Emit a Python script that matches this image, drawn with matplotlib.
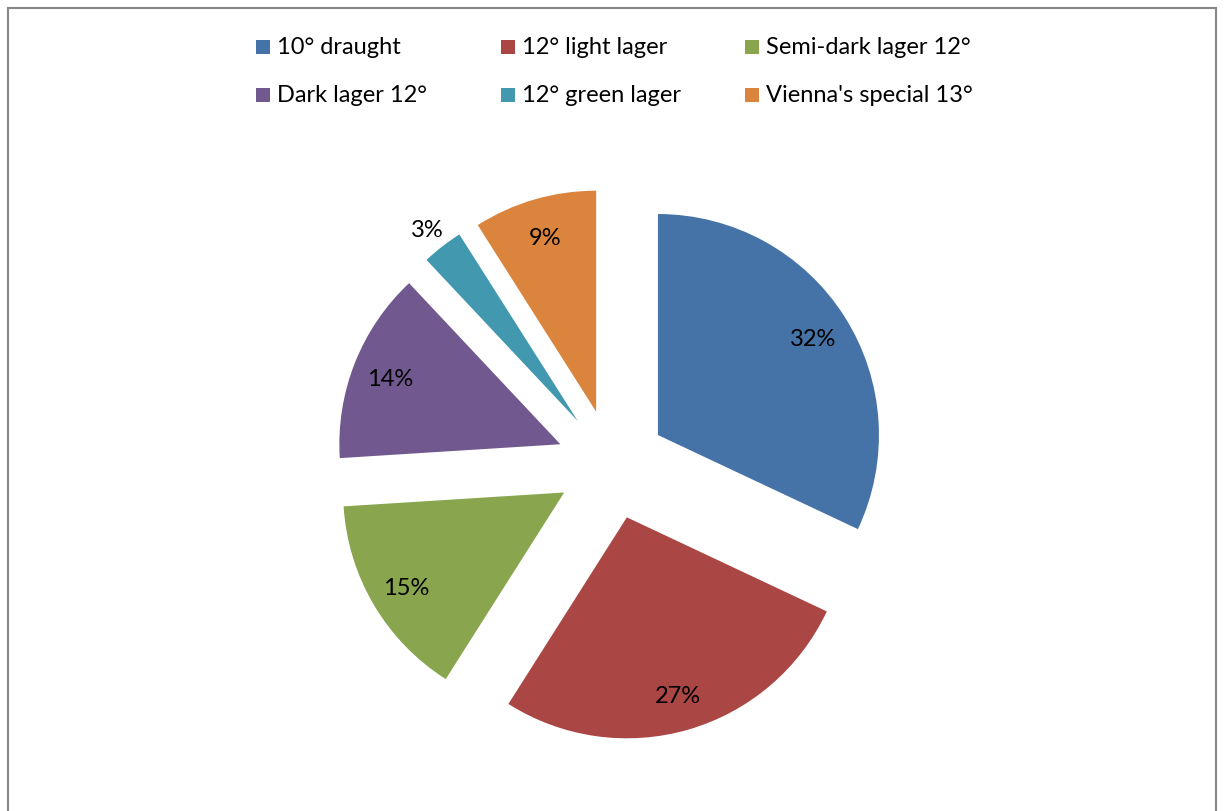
import matplotlib
matplotlib.use("Agg")
import matplotlib.pyplot as plt
from matplotlib.patches import Rectangle
import numpy as np

labels = ["10° draught", "12° light lager", "Semi-dark lager 12°",
          "Dark lager 12°", "12° green lager", "Vienna's special 13°"]
shares = [32, 27, 15, 14, 3, 9]
colors = ["#4572A7", "#AA4643", "#89A54E", "#71588F", "#4198AF", "#DB843D"]

W, H = 1224, 811
FS = 17
plt.rcParams["font.family"] = ["Lato", "DejaVu Sans"]

fig = plt.figure(figsize=(W / 100, H / 100), dpi=100)
ax = fig.add_axes([0, 0, 1, 1])

# pie laid out in pixel units, every slice pulled out by the same amount
r = 221
cx, cy = 611.5, H - 464.5
wedges, _, pcts = ax.pie(shares, colors=colors, radius=r, center=(cx, cy),
                         startangle=90, counterclock=False,
                         explode=[55] * len(shares),
                         autopct=lambda p: f"{p:.0f}%", pctdistance=0.83,
                         textprops=dict(fontsize=FS, color="black"),
                         wedgeprops=dict(linewidth=0))
for t in pcts:
    x, y = t.get_position()
    t.set_position((x, y - 3))

# the thin slice gets its label just outside the wedge
w = wedges[4]
tm = np.deg2rad((w.theta1 + w.theta2) / 2)
pcts[4].set_position((w.center[0] + 1.11 * r * np.cos(tm),
                      w.center[1] + 1.11 * r * np.sin(tm) - 3))

ax.set_xlim(0, W)
ax.set_ylim(0, H)
ax.axis("off")

# legend: two rows of three, evenly spaced
for i, (lab, col) in enumerate(zip(labels, colors)):
    row, c = divmod(i, 3)
    x0 = 256 + c * 244.5
    y = H - (47 + row * 48)
    ax.add_patch(Rectangle((x0, y - 7), 14, 14, color=col, lw=0))
    ax.text(x0 + 21, y - 1, lab, ha="left", va="center", fontsize=FS)

# chart area frame
ax.add_patch(Rectangle((7.5, -10), 1208.5, H - 7.5 + 10, fill=False,
                       edgecolor="#878787", lw=1.5, clip_on=False))

fig.savefig("out.png", dpi=100)
